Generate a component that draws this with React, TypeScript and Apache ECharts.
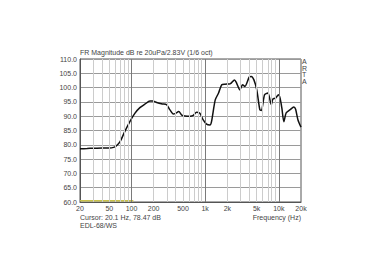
import React, { useEffect, useRef } from "react";
import * as echarts from "echarts";

const freqs = [20, 25, 30, 40, 50, 57, 62, 70, 81, 95, 111, 130, 152, 178, 194, 220, 262, 300, 333, 369, 396, 438, 481, 532, 624, 690, 764, 847, 941, 1044, 1160, 1220, 1370, 1520, 1680, 1860, 2180, 2500, 2670, 2960, 3220, 3460, 3970, 4230, 4590, 5020, 5530, 5800, 6400, 7100, 7400, 7900, 8300, 9000, 9900, 10400, 11000, 11700, 12600, 14100, 16000, 16900, 18200, 20000];
const magDb = [78.6, 78.7, 78.8, 78.9, 78.9, 79.1, 79.6, 81.1, 84.6, 88.1, 91.0, 93.0, 94.2, 95.3, 95.3, 94.8, 94.3, 94.0, 92.2, 90.8, 91.0, 91.6, 90.4, 90.1, 90.0, 90.3, 91.4, 91.0, 88.7, 87.2, 86.9, 88.1, 95.7, 98.1, 101.0, 101.2, 101.3, 102.7, 101.6, 99.2, 101.0, 100.4, 103.7, 103.9, 102.7, 99.2, 92.2, 92.0, 97.5, 98.1, 96.9, 94.0, 96.0, 96.3, 97.5, 96.3, 92.8, 88.1, 91.2, 92.2, 93.2, 92.4, 88.7, 86.2];

const refFreqs = [20, 106];
const refDb = [60.4, 60.4];

const xTickFreqs = [20, 50, 100, 200, 500, 1000, 2000, 5000, 10000, 20000];
const xTickLabels = ["20", "50", "100", "200", "500", "1k", "2k", "5k", "10k", "20k"];
const gridFreqs = [30, 40, 50, 60, 70, 80, 90, 100, 200, 300, 400, 500, 600, 700, 800, 900, 1000, 2000, 3000, 4000, 5000, 6000, 7000, 8000, 9000, 10000];
const decadeFreqs = [100, 1000, 10000];

const yMin = 60;
const yMax = 110;
const yStep = 5;

const titleText = "FR Magnitude dB re 20uPa/2.83V (1/6 oct)";
const cursorText = "Cursor: 20.1 Hz, 78.47 dB";
const nameText = "EDL-68/WS";
const xAxisName = "Frequency (Hz)";
const brandText = "A\nR\nT\nA";

const lg = (f: number) => Math.log10(f);

export default function App() {
  const ref = useRef<HTMLDivElement>(null);
  useEffect(() => {
    if (!ref.current) return;
    const chart = echarts.init(ref.current, null, { renderer: "svg" });
    const font = "Liberation Sans, Arial, sans-serif";
    const textColor = "#444444";
    const tickVals = xTickFreqs.map(lg);
    const labelFor = (v: number) => {
      let best = 0;
      let bd = 1e9;
      tickVals.forEach((t, i) => {
        const d = Math.abs(t - v);
        if (d < bd) {
          bd = d;
          best = i;
        }
      });
      return xTickLabels[best];
    };
    chart.setOption({
      animation: false,
      backgroundColor: "#ffffff",
      grid: {
        left: 80,
        right: 79,
        top: 59,
        bottom: 70,
        show: true,
        borderColor: "#555555",
        borderWidth: 1,
        backgroundColor: "transparent",
      },
      xAxis: {
        type: "value",
        min: lg(20),
        max: lg(20000),
        axisLine: { show: true, lineStyle: { color: "#555555", width: 1 } },
        axisTick: { show: false },
        splitLine: { show: false },
        axisLabel: {
          customValues: tickVals,
          formatter: (v: number) => labelFor(v),
          fontSize: 7,
          color: textColor,
          fontFamily: font,
          margin: 3,
        },
      },
      yAxis: {
        type: "value",
        min: yMin,
        max: yMax,
        interval: yStep,
        axisLine: { show: true, lineStyle: { color: "#555555", width: 1 } },
        axisTick: { show: false },
        splitLine: { show: true, lineStyle: { color: "#9a9a9a", width: 1 } },
        axisLabel: {
          formatter: (v: number) => v.toFixed(1),
          fontSize: 7,
          color: textColor,
          fontFamily: font,
          margin: 3,
        },
      },
      series: [
        {
          type: "line",
          data: [],
          silent: true,
          markLine: {
            silent: true,
            symbol: ["none", "none"],
            label: { show: false },
            animation: false,
            data: gridFreqs.map((f) => ({
              xAxis: lg(f),
              lineStyle: {
                type: "solid",
                color: decadeFreqs.includes(f) ? "#7a7a7a" : "#cccccc",
                width: 1,
              },
            })),
          },
        },
        {
          type: "line",
          data: refFreqs.map((f, i) => [lg(f), refDb[i]]),
          showSymbol: false,
          silent: true,
          lineStyle: { color: "#c9c24a", width: 1.5 },
        },
        {
          type: "line",
          data: freqs.map((f, i) => [lg(f), magDb[i]]),
          showSymbol: false,
          smooth: 0.25,
          silent: true,
          lineStyle: { color: "#111111", width: 1.5 },
        },
      ],
      graphic: [
        {
          type: "text",
          left: 80,
          top: 49,
          style: { text: titleText, fontSize: 7, fill: textColor, fontFamily: font },
        },
        {
          type: "text",
          left: 302,
          top: 58,
          style: { text: brandText, fontSize: 7, lineHeight: 6.6, fill: textColor, fontFamily: font },
        },
        {
          type: "text",
          left: 80,
          top: 214,
          style: { text: cursorText, fontSize: 7, fill: textColor, fontFamily: font },
        },
        {
          type: "text",
          left: 80,
          top: 222,
          style: { text: nameText, fontSize: 7, fill: textColor, fontFamily: font },
        },
        {
          type: "text",
          right: 79,
          top: 214,
          style: { text: xAxisName, fontSize: 7, fill: textColor, fontFamily: font },
        },
      ],
    });
    return () => chart.dispose();
  }, []);
  return (
    <div
      ref={ref}
      style={{ position: "fixed", left: 0, top: 0, width: 380, height: 272, background: "#fff" }}
    />
  );
}
